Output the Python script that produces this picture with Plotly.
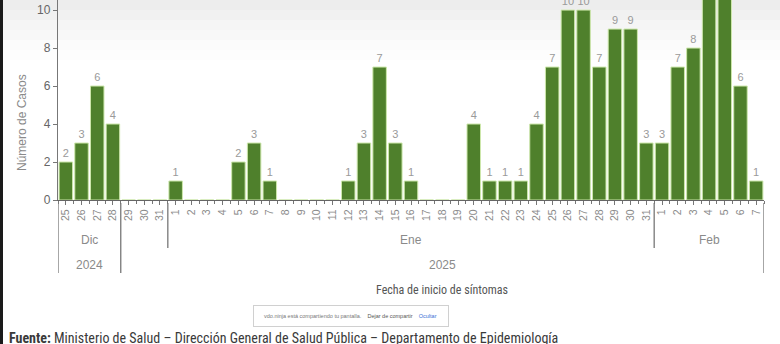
import plotly.graph_objects as go

# ---- data ----
dias_dic = [25, 26, 27, 28, 29, 30, 31]
dias_ene = list(range(1, 32))
dias_feb = [1, 2, 3, 4, 5, 6, 7]

casos_dic = [2, 3, 6, 4, 0, 0, 0]
casos_ene = [1, 0, 0, 0, 2, 3, 1, 0, 0, 0, 0, 1, 3, 7, 3, 1, 0, 0, 0, 4,
             1, 1, 1, 4, 7, 10, 10, 7, 9, 9, 3]
casos_feb = [3, 7, 8, 11, 11, 6, 1]

grupos_mes = [("Dic", 4), ("", 3), ("Ene", 31), ("Feb", 7)]
grupos_anio = [("2024", 4), ("2025", 41)]

etiquetas = [str(d) for d in dias_dic + dias_ene + dias_feb]
casos = casos_dic + casos_ene + casos_feb
x = list(range(len(casos)))
textos = [str(v) if v > 0 else "" for v in casos]

FONT = "Liberation Sans"
NARROW = "Liberation Sans Narrow, Roboto Condensed, Liberation Sans"

fig = go.Figure()
fig.add_trace(go.Bar(
    x=x, y=casos, text=textos, textposition="outside",
    textfont=dict(family=FONT, size=11, color="#9a9a9a"),
    marker=dict(color="#4f802c", line=dict(color="#cde7ab", width=1)),
    cliponaxis=True,
))

# px helpers: plot area 706 x 200, margins l=58 b=144
def py(p):
    return (200 - p) / 200.0

def px(p):
    return (p - 58) / 706.0

shapes = []
annotations = []

# faint top gradient of the screenshot
for i, op in enumerate([0.07, 0.055, 0.04, 0.028, 0.016, 0.008]):
    shapes.append(dict(type="rect", xref="paper", yref="paper",
                       x0=px(0), x1=px(780), y0=py(10 * (i + 1)), y1=py(10 * i),
                       fillcolor="#000000", opacity=op, line=dict(width=0), layer="below"))

# year-level and month-level separators
year_bounds = [-0.5]
acc = -0.5
for name, n in grupos_anio:
    acc += n
    year_bounds.append(acc)
month_bounds = []
acc = -0.5
for name, n in grupos_mes:
    acc += n
    month_bounds.append(acc)
for b in year_bounds:
    shapes.append(dict(type="line", xref="x", yref="paper", x0=b, x1=b,
                       y0=py(203), y1=py(273), line=dict(color="#777", width=1.3)))
for b in month_bounds:
    if b not in year_bounds:
        shapes.append(dict(type="line", xref="x", yref="paper", x0=b, x1=b,
                           y0=py(203), y1=py(248), line=dict(color="#777", width=1.3)))

acc = -0.5
for name, n in grupos_mes:
    if name:
        annotations.append(dict(x=acc + n / 2.0, y=py(240), xref="x", yref="paper",
                                xanchor="center", yanchor="middle",
                                text=name, showarrow=False,
                                font=dict(family=FONT, size=12, color="#8a8a8a")))
    acc += n
acc = -0.5
for name, n in grupos_anio:
    annotations.append(dict(x=acc + n / 2.0, y=py(265), xref="x", yref="paper",
                            xanchor="center", yanchor="middle",
                            text=name, showarrow=False,
                            font=dict(family=FONT, size=12, color="#8a8a8a")))
    acc += n

annotations.append(dict(x=px(442), y=py(290), xref="paper", yref="paper",
                        xanchor="center", yanchor="middle",
                        text="Fecha de inicio de síntomas", showarrow=False,
                        font=dict(family=NARROW, size=12, color="#555")))
annotations.append(dict(x=px(22), y=py(123), xref="paper", yref="paper",
                        xanchor="center", yanchor="middle",
                        text="Número de Casos", textangle=-90, showarrow=False,
                        font=dict(family=FONT, size=12, color="#8a8a8a")))
annotations.append(dict(x=px(7), y=py(338), xref="paper", yref="paper",
                        xanchor="left", yanchor="middle",
                        text="<b>Fuente:</b> Ministerio de Salud – Dirección General de Salud Pública – Departamento de Epidemiología",
                        showarrow=False,
                        font=dict(family=NARROW, size=14, color="#3a3a3a")))
annotations.append(dict(x=px(351), y=py(316), xref="paper", yref="paper",
                        xanchor="center", yanchor="middle",
                        text="  vdo.ninja está compartiendo tu pantalla.    "
                             "<span style='color:#555'>Dejar de compartir</span>    "
                             "<span style='color:#3b6fd6'>Ocultar</span>   ",
                        showarrow=False, bgcolor="#ffffff", bordercolor="#d0d0d0",
                        borderwidth=1, borderpad=7,
                        font=dict(family=FONT, size=5.5, color="#777")))

# left dark edge of the screenshot
shapes.append(dict(type="rect", xref="paper", yref="paper",
                   x0=px(0), x1=px(3), y0=py(344), y1=1,
                   fillcolor="#1a1a1a", line=dict(width=0), layer="above"))

fig.update_layout(
    width=780, height=344,
    margin=dict(l=58, r=16, t=0, b=144),
    paper_bgcolor="#ffffff", plot_bgcolor="rgba(0,0,0,0)",
    showlegend=False, bargap=0.14,
    shapes=shapes, annotations=annotations,
    font=dict(family=FONT),
    xaxis=dict(
        range=[-0.5, len(casos) - 0.5],
        tickmode="array", tickvals=x, ticktext=etiquetas,
        tickangle=-90, ticks="outside", ticklen=4, tickcolor="#777",
        tickfont=dict(family=FONT, size=10.5, color="#8a8a8a"),
        showline=True, linecolor="#666", linewidth=1.3,
        showgrid=False, zeroline=False,
        minor=dict(tick0=-0.5, dtick=1, ticks="outside", ticklen=3, tickcolor="#777"),
    ),
    yaxis=dict(
        range=[0, 10.53], tickvals=[0, 2, 4, 6, 8, 10],
        ticks="outside", ticklen=4, tickcolor="#777",
        tickfont=dict(family=FONT, size=12, color="#666"),
        showline=True, linecolor="#777", linewidth=1.3,
        showgrid=False, zeroline=False,
    ),
)

fig.write_html("out.html")
